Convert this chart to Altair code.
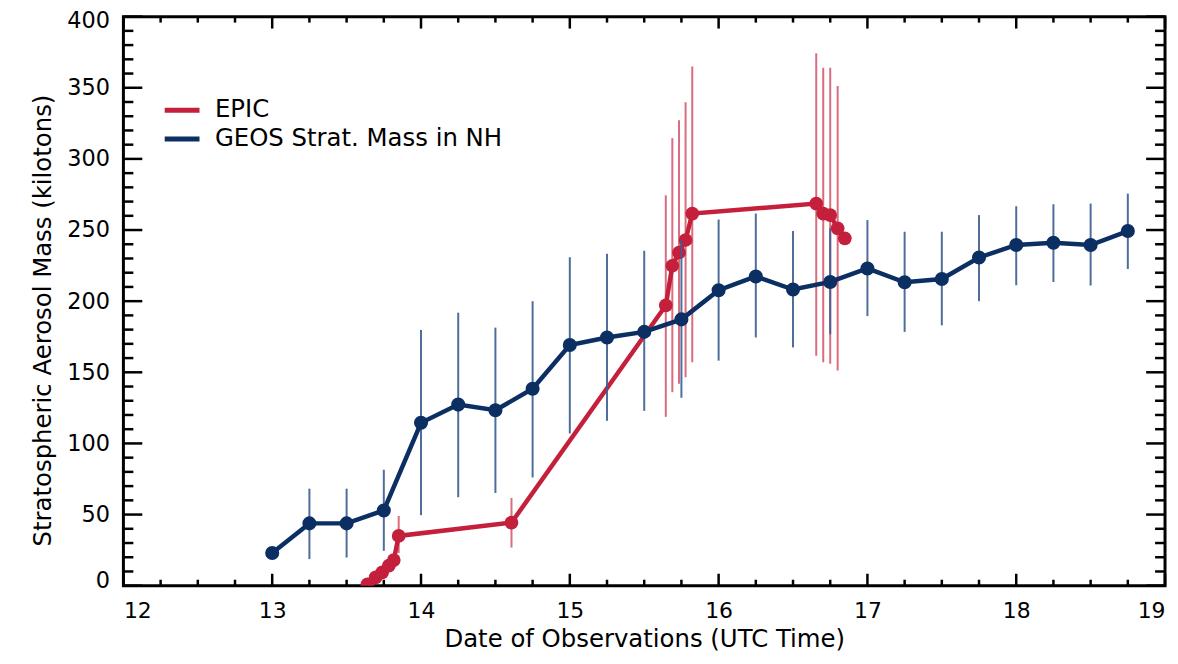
import altair as alt
import pandas as pd

# ---------------- data ----------------
geos_x = [13.0, 13.25, 13.5, 13.75, 14.0, 14.25, 14.5, 14.75, 15.0, 15.25, 15.5, 15.75,
          16.0, 16.25, 16.5, 16.75, 17.0, 17.25, 17.5, 17.75, 18.0, 18.25, 18.5, 18.75]
geos_y = [23, 43.8, 43.8, 52.9, 114.5, 127.3, 123.3, 138.4, 169.2, 174.5, 178.4, 187.2,
          207.7, 217.4, 208.2, 213.5, 223, 213.3, 215.6, 230.7, 239.5, 241.1, 239.5, 249.3]
geos_lo = [None, 18.7, 19.8, 24.5, 49.6, 62.2, 65.2, 76.1, 107, 115.9, 122.9, 132.1,
           158.2, 174.5, 167.5, 176.8, 189.5, 178.4, 183, 200, 211.2, 213.5, 211, 222.6]
geos_hi = [None, 68.2, 68.2, 81.5, 179.8, 191.9, 181.4, 200, 230.9, 233.3, 235.4, 243,
           257.4, 261.6, 249.3, 251.2, 257, 248.8, 248.8, 260.5, 266.7, 268.1, 268.6, 275.6]

epic_x = [13.64, 13.695, 13.739, 13.784, 13.817, 13.85, 14.608, 15.645, 15.689, 15.734,
          15.778, 15.823, 16.656, 16.703, 16.75, 16.8, 16.848]
epic_y = [1, 5.9, 9.4, 14.1, 18, 35, 44.3, 197, 224.9, 234.2, 243, 261.6, 268.6, 261.6,
          260.5, 251.2, 244.2]
epic_lo = [None, None, None, None, None, 23, 26.8, 118.7, 136, 141.9, 146.6, 157, 161.7,
           157, 156, 151.2, None]
epic_hi = [None, None, None, None, None, 49, 61.7, 274.4, 314.6, 327.2, 339.8, 365, 374.3,
           364, 364, 351.3, None]

series_names = ["EPIC", "GEOS Strat. Mass in NH"]
x_labels = [12, 13, 14, 15, 16, 17, 18, 19]
y_labels = [0, 50, 100, 150, 200, 250, 300, 350, 400]
x_minor = [12 + 0.25 * i for i in range(29) if i % 4 != 0]
y_minor = [10 * i for i in range(41) if i % 5 != 0]

# ---------------- styling ----------------
W, H = 1047, 572
RED = "#c41f3b"
RED_BAR = "#d0475c"
BLUE = "#0b2f63"
BLUE_BAR = "#3b5d8f"
FONT = "DejaVu Sans"

xscale = alt.Scale(domain=[12, 19], nice=False, zero=False)
yscale = alt.Scale(domain=[0, 400], nice=False, zero=False)
xax = alt.Axis(values=x_labels, ticks=False, domain=False, grid=False, labelFontSize=22,
               labelPadding=15, title="Date of Observations (UTC Time)", titleFontSize=24.5,
               titlePadding=6, format="d", labelFont=FONT, titleFont=FONT,
               titleFontWeight="normal", labelColor="black", titleColor="black")
yax = alt.Axis(values=y_labels, ticks=False, domain=False, grid=False, labelFontSize=22.5,
               labelPadding=14, title="Stratospheric Aerosol Mass (kilotons)",
               titleFontSize=24.5, titlePadding=11, titleY=305, format="d",
               labelFlush=True, labelFlushOffset=7,
               labelFont=FONT, titleFont=FONT, titleFontWeight="normal",
               labelColor="black", titleColor="black")

color_scale = alt.Scale(domain=series_names, range=[RED, BLUE])
legend = alt.Legend(orient="none", legendX=42, legendY=77, title=None,
                    symbolType="M-1.207,0H1.207", symbolSize=841, symbolStrokeWidth=5,
                    labelFontSize=24.5, labelFont=FONT, labelOffset=16, rowPadding=0,
                    labelColor="black", labelLimit=600)

geos = pd.DataFrame({"x": geos_x, "y": geos_y, "lo": geos_lo, "hi": geos_hi,
                     "series": series_names[1]})
epic = pd.DataFrame({"x": epic_x, "y": epic_y, "lo": epic_lo, "hi": epic_hi,
                     "series": series_names[0]})
geos_bars = geos.dropna(subset=["lo", "hi"])
epic_bars = epic.dropna(subset=["lo", "hi"])


def X(f):
    return alt.X(f, type="quantitative", scale=xscale, axis=xax)


def Y(f):
    return alt.Y(f, type="quantitative", scale=yscale, axis=yax)


red_bars = alt.Chart(epic_bars).mark_rule(color=RED_BAR, strokeWidth=2, opacity=0.8).encode(
    x=X("x"), y=Y("lo"), y2="hi")
red_line = alt.Chart(epic).mark_line(strokeWidth=4.5, clip=True).encode(
    x=X("x"), y=Y("y"), color=alt.Color("series:N", scale=color_scale, legend=legend))
red_pts = alt.Chart(epic).mark_circle(size=190, opacity=1, color=RED, clip=True).encode(
    x=X("x"), y=Y("y"))

blue_bars = alt.Chart(geos_bars).mark_rule(color=BLUE_BAR, strokeWidth=2, opacity=0.9).encode(
    x=X("x"), y=Y("lo"), y2="hi")
blue_line = alt.Chart(geos).mark_line(strokeWidth=4.5).encode(
    x=X("x"), y=Y("y"), color=alt.Color("series:N", scale=color_scale, legend=legend))
blue_pts = alt.Chart(geos).mark_circle(size=200, opacity=1, color=BLUE).encode(
    x=X("x"), y=Y("y"))

# inward-pointing axis ticks, positioned through the scales
xmaj = pd.DataFrame({"v": x_labels})
xmin = pd.DataFrame({"v": x_minor})
ymaj = pd.DataFrame({"v": y_labels})
ymin = pd.DataFrame({"v": y_minor})


def xticks(df, length):
    base = alt.Chart(df).mark_rule(color="black", strokeWidth=2.5)
    bottom = base.encode(x=X("v"), y=alt.value(H), y2=alt.value(H - length))
    top = base.encode(x=X("v"), y=alt.value(0), y2=alt.value(length))
    return [bottom, top]


def yticks(df, length):
    base = alt.Chart(df).mark_rule(color="black", strokeWidth=2.5)
    left = base.encode(y=Y("v"), x=alt.value(0), x2=alt.value(length))
    right = base.encode(y=Y("v"), x=alt.value(W), x2=alt.value(W - length))
    return [left, right]


layers = (xticks(xmaj, 12) + xticks(xmin, 6) + yticks(ymaj, 19) + yticks(ymin, 10)
          + [red_bars, red_line, red_pts, blue_bars, blue_line, blue_pts])

chart = alt.layer(*layers).properties(
    width=W, height=H,
    autosize=alt.AutoSizeParams(type="none"),
    padding={"left": 116, "top": 7, "right": 5, "bottom": 72},
    background="white",
).configure_view(stroke="black", strokeWidth=3)

chart.save("out.html", embed_options={"renderer": "svg", "actions": False})
